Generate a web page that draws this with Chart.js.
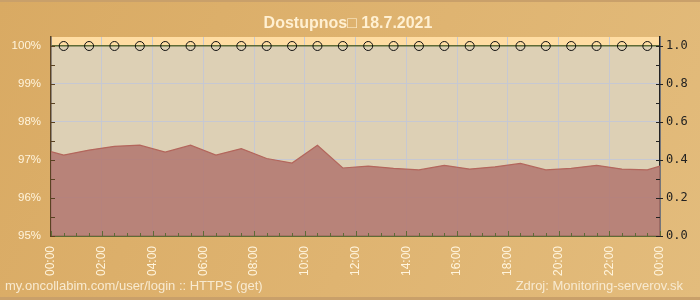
<!DOCTYPE html>
<html><head><meta charset="utf-8">
<script src="https://cdn.jsdelivr.net/npm/chart.js@4/dist/chart.umd.min.js"></script>
<style>html,body{margin:0;padding:0;background:#DCAE68;}canvas{display:block;}</style>
</head><body>
<canvas id="c" width="700" height="300"></canvas>
<script>
const titleText = 'Dostupnos\u25A1 18.7.2021';
const footerLeft = 'my.oncollabim.com/user/login :: HTTPS (get)';
const footerRight = 'Zdroj: Monitoring-serverov.sk';
const xTickLabels = ['00:00','02:00','04:00','06:00','08:00','10:00','12:00','14:00','16:00','18:00','20:00','22:00','00:00'];
const leftTicks = [95, 96, 97, 98, 99, 100];
const rightTicks = [0, 0.2, 0.4, 0.6, 0.8, 1.0];
const hours = [0, 0.5, 1.5, 2.5, 3.5, 4.5, 5.5, 6.5, 7.5, 8.5, 9.5, 10.5, 11.5, 12.5, 13.5, 14.5, 15.5, 16.5, 17.5, 18.5, 19.5, 20.5, 21.5, 22.5, 23.5, 24];
const availability = [97.22, 97.13, 97.26, 97.36, 97.39, 97.21, 97.39, 97.13, 97.30, 97.04, 96.92, 97.39, 96.79, 96.84, 96.78, 96.74, 96.86, 96.76, 96.82, 96.91, 96.74, 96.78, 96.86, 96.76, 96.74, 96.84];
const checkHours = [0.5, 1.5, 2.5, 3.5, 4.5, 5.5, 6.5, 7.5, 8.5, 9.5, 10.5, 11.5, 12.5, 13.5, 14.5, 15.5, 16.5, 17.5, 18.5, 19.5, 20.5, 21.5, 22.5, 23.5];
const checkValues = [1, 1, 1, 1, 1, 1, 1, 1, 1, 1, 1, 1, 1, 1, 1, 1, 1, 1, 1, 1, 1, 1, 1, 1];

const CREAM = '#FFF4DC';
const GRID = '#C6C8D2';
const OLIVE = '#5E6B36';

const bgPlugin = {
  id: 'bg',
  beforeDraw(chart) {
    const c = chart.ctx, a = chart.chartArea;
    c.save();
    const g = c.createLinearGradient(0, 0, 700, 300);
    g.addColorStop(0, '#D9AA63');
    g.addColorStop(0.55, '#DFB471');
    g.addColorStop(1, '#E3BC7C');
    c.fillStyle = g;
    c.fillRect(0, 0, 700, 300);
    c.fillStyle = '#C9A06A';
    c.fillRect(0, 0, 700, 2);
    c.fillRect(0, 297, 700, 3);
    c.fillStyle = '#DDD0B5';
    c.fillRect(a.left, a.top, a.right - a.left, a.bottom - a.top);
    const y100 = chart.scales.y.getPixelForValue(100);
    c.fillStyle = '#FFDDA3';
    c.fillRect(a.left, a.top, a.right - a.left, y100 - a.top);
    c.restore();
  },
  afterDraw(chart) {
    const c = chart.ctx, a = chart.chartArea;
    const sx = chart.scales.x, sy = chart.scales.y, sr = chart.scales.y2;
    c.save();
    c.lineWidth = 1;
    c.strokeStyle = '#5A4222';
    for (let v = 95; v <= 100.001; v += 0.5) {
      const y = Math.round(sy.getPixelForValue(v)) + 0.5;
      c.beginPath(); c.moveTo(a.left, y); c.lineTo(a.left + 4, y); c.stroke();
    }
    c.strokeStyle = OLIVE;
    for (let h = 0; h <= 24.001; h += 0.5) {
      const x = Math.round(sx.getPixelForValue(h)) + 0.5;
      const len = (Math.abs(h % 2) < 0.01) ? 5 : 3;
      c.beginPath(); c.moveTo(x, a.bottom); c.lineTo(x, a.bottom - len); c.stroke();
    }
    c.strokeStyle = '#222';
    for (let i = 0; i <= 10; i++) {
      const v = i / 10;
      const y = Math.round(sr.getPixelForValue(v)) + 0.5;
      const out = (i % 2 === 0) ? 3 : 0;
      c.beginPath(); c.moveTo(a.right + out, y); c.lineTo(a.right - 4, y); c.stroke();
    }
    c.fillStyle = '#FFF0D2';
    c.font = 'bold 16px "Liberation Sans", Arial, sans-serif';
    c.textAlign = 'center';
    c.textBaseline = 'alphabetic';
    c.fillText(titleText, 348, 28);
    c.font = '13px "Liberation Sans", Arial, sans-serif';
    c.fillStyle = '#F8EAD0';
    c.textAlign = 'left';
    c.fillText(footerLeft, 5, 290);
    c.textAlign = 'right';
    c.fillText(footerRight, 683, 290);
    c.restore();
  }
};

new Chart(document.getElementById('c'), {
  type: 'line',
  data: {
    datasets: [
      {
        label: 'checks',
        data: checkHours.map((h, i) => ({x: h, y: checkValues[i]})),
        yAxisID: 'y2',
        showLine: false,
        pointRadius: 4.5,
        pointBorderColor: '#111',
        pointBackgroundColor: 'rgba(0,0,0,0)',
        pointBorderWidth: 1,
        order: 0
      },
      {
        label: 'availability',
        data: hours.map((h, i) => ({x: h, y: availability[i]})),
        yAxisID: 'y',
        borderColor: '#B3665C',
        borderWidth: 1.2,
        backgroundColor: 'rgba(178,117,111,0.85)',
        fill: 'start',
        pointRadius: 0,
        tension: 0,
        order: 1
      }
    ]
  },
  options: {
    responsive: false,
    animation: false,
    devicePixelRatio: 1,
    layout: {padding: {top: 37, left: 0, right: 0, bottom: 0}},
    plugins: {legend: {display: false}, tooltip: {enabled: false}},
    scales: {
      x: {
        type: 'linear', min: 0, max: 24, position: 'bottom',
        afterBuildTicks: s => { s.ticks = xTickLabels.map((l, i) => ({value: i * 2})); },
        afterFit: s => { s.height = 64; },
        ticks: {
          callback: (v, i) => xTickLabels[i],
          color: CREAM, font: {size: 12, family: '"Liberation Sans", Arial, sans-serif'},
          minRotation: 90, maxRotation: 90, padding: 10, autoSkip: false
        },
        grid: {color: GRID, drawTicks: false, lineWidth: 1},
        border: {color: OLIVE, width: 2}
      },
      y: {
        position: 'left', min: 95, max: 100.2368,
        afterBuildTicks: s => { s.ticks = leftTicks.map(v => ({value: v})); },
        afterFit: s => { s.width = 51; },
        ticks: {
          callback: v => v + '%',
          color: CREAM, font: {size: 11.5, family: '"Liberation Sans", Arial, sans-serif'},
          padding: 10
        },
        grid: {color: ctx => (ctx.tick && ctx.tick.value === 100) ? OLIVE : GRID, lineWidth: ctx => (ctx.tick && ctx.tick.value === 100) ? 1.5 : 1, drawTicks: false},
        border: {color: '#5A4222', width: 1.5}
      },
      y2: {
        position: 'right', min: 0, max: 1.04737,
        afterBuildTicks: s => { s.ticks = rightTicks.map(v => ({value: v})); },
        afterFit: s => { s.width = 40; },
        ticks: {
          callback: v => v.toFixed(1),
          color: '#222', font: {size: 12, family: '"DejaVu Sans Mono", monospace'},
          padding: 6
        },
        grid: {display: false, drawTicks: false},
        border: {color: '#222', width: 1.5}
      }
    }
  },
  plugins: [bgPlugin]
});
</script>
</body></html>
